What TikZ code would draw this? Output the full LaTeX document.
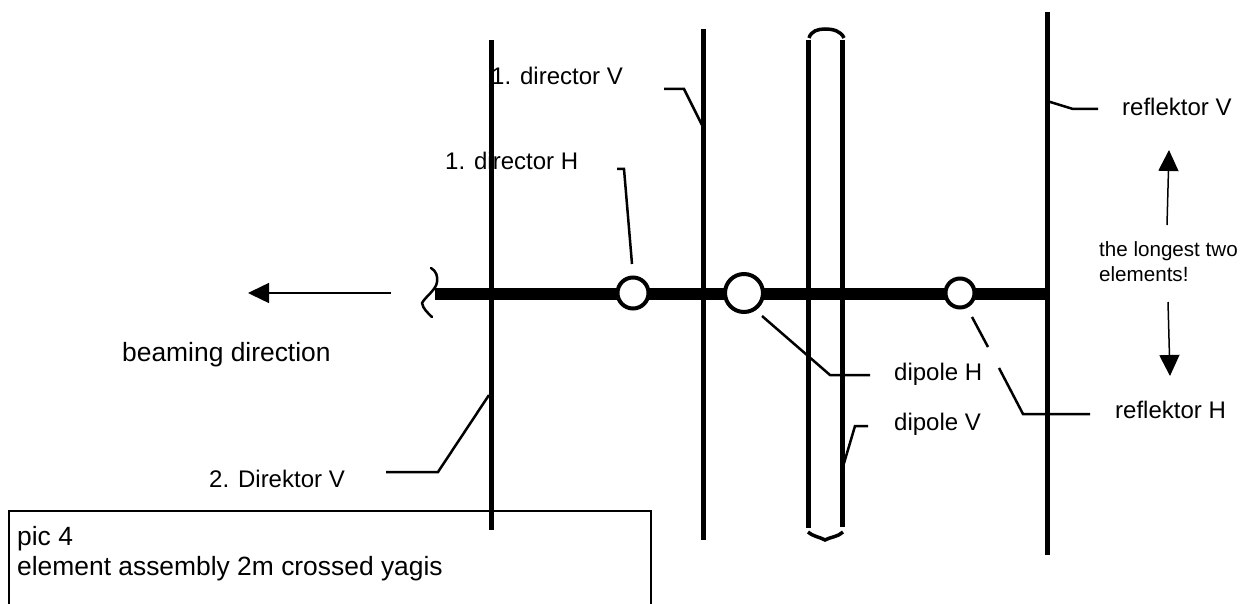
\documentclass[tikz,border=0pt]{standalone}
\usepackage{fontspec}
\setmainfont{Liberation Sans}
\usetikzlibrary{arrows.meta}
\tikzset{
  x=1pt,y=-1pt,
  elem/.style={line width=5pt},
  boom/.style={line width=12pt},
  capline/.style={line width=3.5pt},
  hub/.style={circle,draw,line width=4pt,fill=white,inner sep=0pt},
  leader/.style={line width=2.5pt},
  dirarrow/.style={line width=1.5pt,-{Triangle[length=21pt,width=20pt]}},
  lab/.style={inner sep=0pt,anchor=base west,font=\fontsize{24}{24}\selectfont},
  labbig/.style={inner sep=0pt,anchor=base west,font=\fontsize{26.4}{26.4}\selectfont},
  labsmall/.style={inner sep=0pt,anchor=base west,font=\fontsize{20.6}{20.6}\selectfont}
}
\begin{document}
\begin{tikzpicture}
\useasboundingbox (0,0) rectangle (1245,604);
% coordinates
\coordinate (d2t) at (491,40); \coordinate (d2b) at (491,530);
\coordinate (d1t) at (703,29); \coordinate (d1b) at (703,540);
\coordinate (dlt) at (808,40); \coordinate (dlb) at (808,528);
\coordinate (drt) at (842,40); \coordinate (drb) at (842,527);
\coordinate (rt) at (1047,12); \coordinate (rb) at (1047,555);
\coordinate (bl) at (435,294); \coordinate (br) at (1047,294);
% elements
\draw[boom] (bl) -- (br);
\draw[elem] (d2t) -- (d2b);
\draw[elem] (d1t) -- (d1b);
\draw[elem] (dlt) -- (dlb);
\draw[elem] (drt) -- (drb);
\draw[elem] (rt) -- (rb);
% dipole caps
\draw[capline] (809,38) .. controls (811,31) and (818,29) .. (825,29) .. controls (833,29) and (841,31) .. (844,38);
\draw[capline] (808,532) .. controls (814,537) and (820,537) .. (825,540) .. controls (830,537) and (838,537) .. (843,532);
% break mark
\draw[line width=2.5pt,line cap=round,line join=round] (431,268) .. controls (436,271) and (438,276) .. (437,282) .. controls (436,290) and (426,296) .. (422,303) .. controls (423,309) and (428,313) .. (432,317);
% hubs
\node[hub,minimum size=31pt] (h1) at (633,293) {};
\node[hub,minimum size=38pt] (h2) at (744,293) {};
\node[hub,minimum size=29pt] (h3) at (960,293) {};
% labels
\node[lab] (l1dv) at (491,85) {1. director V};
\node[lab] (l1dh) at (445,170) {1. director H};
\node[lab] (lrv) at (1122,116) {reflektor V};
\node[lab] (lrh) at (1115,418) {reflektor H};
\node[lab] (ldh) at (894,380) {dipole H};
\node[lab] (ldv) at (894,430) {dipole V};
\node[lab] (l2d) at (209,487) {2. Direktor V};
\node[labbig] (lbeam) at (122,361) {beaming direction};
\node[labsmall] (llong) at (1099,257) {the longest two};
\node[labsmall] (llong2) at (1099,281) {elements!};
% leaders
\coordinate (a1) at (664,89); \coordinate (a2) at (684,89); \coordinate (a3) at (702,125);
\draw[leader] (a1) -- (a2) -- (a3);
\coordinate (b1) at (617,169); \coordinate (b2) at (624,169); \coordinate (b3) at (632,264);
\draw[leader] (b1) -- (b2) -- (b3);
\coordinate (c1) at (1047,101); \coordinate (c2) at (1073,109); \coordinate (c3) at (1098,109);
\draw[leader] (c1) -- (c2) -- (c3);
\coordinate (e1) at (762,316); \coordinate (e2) at (830,375); \coordinate (e3) at (870,375);
\draw[leader] (e1) -- (e2) -- (e3);
\coordinate (f1) at (842,470); \coordinate (f2) at (855,426); \coordinate (f3) at (868,426);
\draw[leader] (f1) -- (f2) -- (f3);
\coordinate (g1) at (972,317); \coordinate (g2) at (988,347);
\coordinate (g3) at (999,368); \coordinate (g4) at (1023,414); \coordinate (g5) at (1090,414);
\draw[leader] (g1) -- (g2);
\draw[leader] (g3) -- (g4) -- (g5);
\coordinate (k1) at (386,472); \coordinate (k2) at (438,472); \coordinate (k3) at (489,395);
\draw[leader] (k1) -- (k2) -- (k3);
% arrows
\coordinate (m1) at (391,293); \coordinate (m2) at (248,293);
\draw[dirarrow] (m1) -- (m2);
\coordinate (n1) at (1167,225); \coordinate (n2) at (1169,150);
\draw[dirarrow] (n1) -- (n2);
\coordinate (o1) at (1168,302); \coordinate (o2) at (1170,376);
\draw[dirarrow] (o1) -- (o2);
% caption box
\coordinate (p1) at (9,604); \coordinate (p2) at (9,511); \coordinate (p3) at (651,511); \coordinate (p4) at (651,604);
\draw[line width=2.5pt] (p1) -- (p2) -- (p3) -- (p4);
\node[labbig] (capt) at (17,545) {pic 4};
\node[labbig] (capt2) at (17,575) {element assembly 2m crossed yagis};
\end{tikzpicture}
\end{document}
